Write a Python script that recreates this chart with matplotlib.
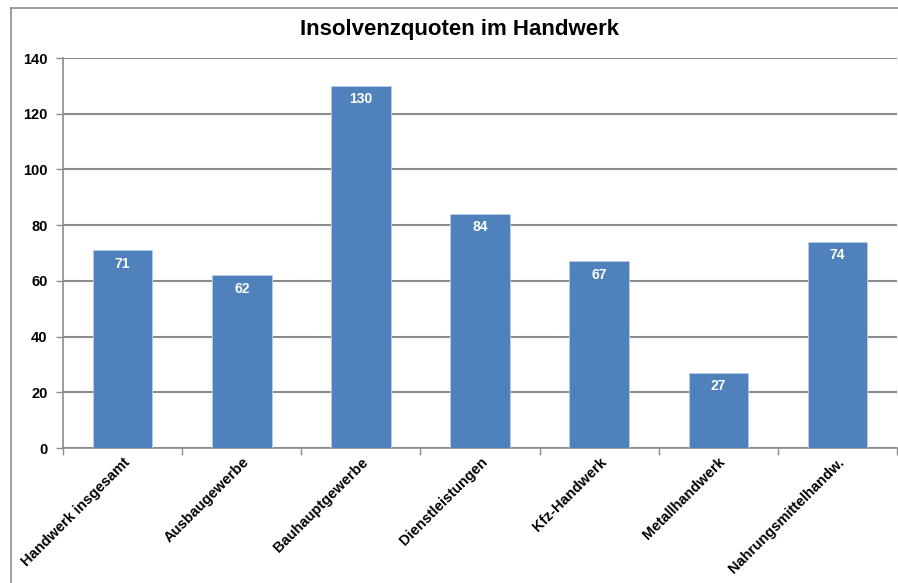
import matplotlib.pyplot as plt
from matplotlib.lines import Line2D

categories = ["Handwerk insgesamt", "Ausbaugewerbe", "Bauhauptgewerbe", "Dienstleistungen",
              "Kfz-Handwerk", "Metallhandwerk", "Nahrungsmittelhandw."]
values = [71, 62, 130, 84, 67, 27, 74]

plt.rcParams['font.family'] = ['Liberation Sans', 'DejaVu Sans']

fig = plt.figure(figsize=(8.98, 5.83), dpi=100)
ax = fig.add_axes([63/898, 135/583, 834/898, 390/583])

x = list(range(len(values)))
bars = ax.bar(x, values, width=0.5, color='#4F81BD', edgecolor='#B9CDE5', linewidth=0.6, zorder=3)
for xi, v in zip(x, values):
    ax.text(xi, v - 4.8, str(v), ha='center', va='center', color='white',
            fontsize=10, fontweight='bold', zorder=4)

ax.set_xlim(-0.5, len(values) - 0.5)
ax.set_ylim(0, 140)
ax.set_yticks(range(0, 141, 20))
ax.yaxis.grid(True, color='#8c8c8c', linewidth=1.5, zorder=0)
ax.set_axisbelow(True)

ax.set_xticks([i - 0.5 for i in range(len(values) + 1)])
ax.set_xticklabels([])
ax.set_xticks(x, minor=True)
ax.set_xticklabels(categories, minor=True, rotation=45, ha='right', rotation_mode='anchor',
                   fontsize=10.5, fontweight='bold')
ax.tick_params(axis='x', which='minor', length=0, pad=5)
ax.tick_params(axis='x', which='major', length=5, color='#8c8c8c', width=1)
ax.tick_params(axis='y', length=5, color='#8c8c8c', width=1, labelsize=10.5, pad=6)
for lbl in ax.get_yticklabels():
    lbl.set_fontweight('bold')

for s in ['top', 'right']:
    ax.spines[s].set_visible(False)
for s in ['left', 'bottom']:
    ax.spines[s].set_color('#8c8c8c')
    ax.spines[s].set_linewidth(1.2)

fig.text(460/898, 1 - 30/583, "Insolvenzquoten im Handwerk", ha='center', va='center',
         fontsize=16, fontweight='bold')

# outer chart frame
fig.add_artist(Line2D([10.5/898, 10.5/898], [0, 1 - 7.5/583], color='#8c8c8c', linewidth=1.2))
fig.add_artist(Line2D([10.5/898, 1], [1 - 7.5/583, 1 - 7.5/583], color='#8c8c8c', linewidth=1.2))

fig.savefig("out.png", dpi=100)
